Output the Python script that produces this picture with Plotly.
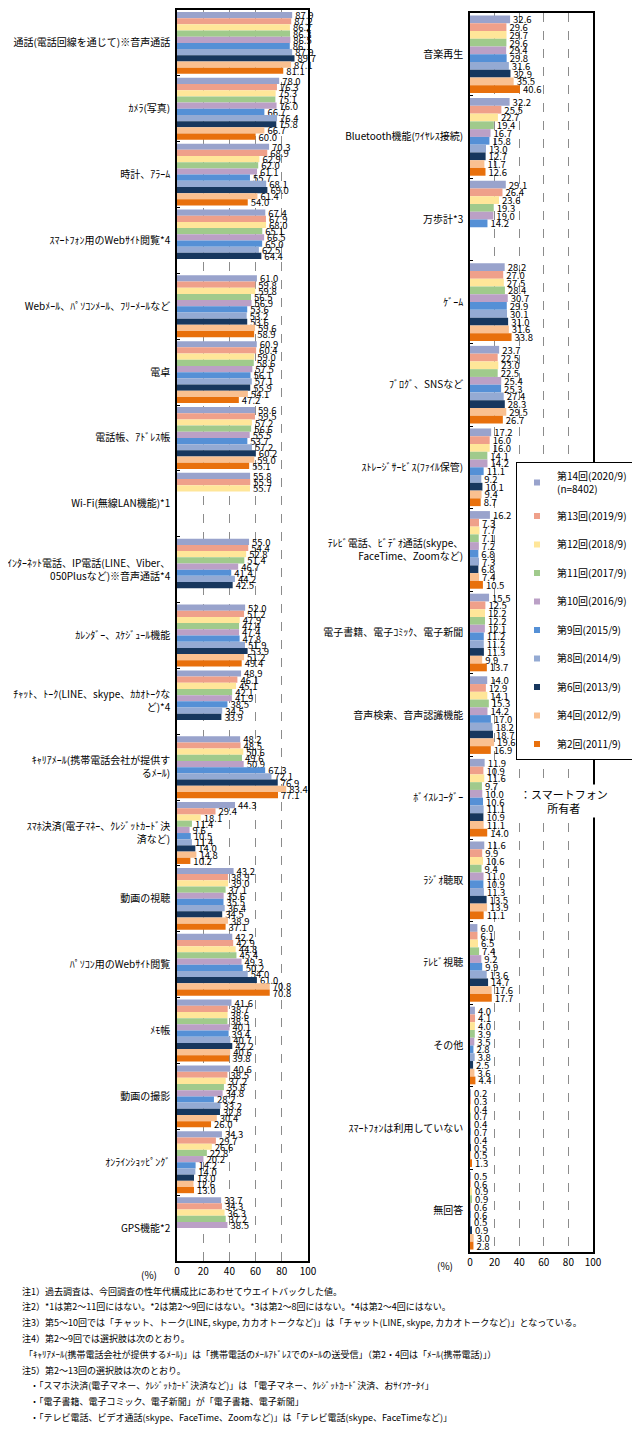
import plotly.graph_objects as go

# The page body adds an 8px margin, so the figure is 8px smaller and all pixel
# positions below are shifted by that margin.
PAGE_W, PAGE_H = 640, 1435
OFF = 8
W, H = PAGE_W - OFF, PAGE_H - OFF
FONT = "Noto Sans CJK JP"
LABEL_FONT = "Liberation Sans Narrow, Arial Narrow, Noto Sans CJK JP"

series_names = ["第14回(2020/9)<br>(n=8402)", "第13回(2019/9)", "第12回(2018/9)", "第11回(2017/9)",
                "第10回(2016/9)", "第9回(2015/9)", "第8回(2014/9)", "第6回(2013/9)",
                "第4回(2012/9)", "第2回(2011/9)"]
colors = ["#99A3CC", "#EFA08A", "#FFE699", "#A0CA8C", "#BBA0C6", "#5590D6",
          "#94AAD3", "#17375E", "#FAC090", "#E8700C"]

left_cats = ["通話(電話回線を通じて)※音声通話", "ｶﾒﾗ(写真)", "時計、ｱﾗｰﾑ", "ｽﾏｰﾄﾌｫﾝ用のWebｻｲﾄ閲覧*4",
             "Webﾒｰﾙ、ﾊﾟｿｺﾝﾒｰﾙ、ﾌﾘｰﾒｰﾙなど", "電卓", "電話帳、ｱﾄﾞﾚｽ帳", "Wi-Fi(無線LAN機能)*1",
             "ｲﾝﾀｰﾈｯﾄ電話、IP電話(LINE、Viber、<br>050Plusなど)※音声通話*4", "ｶﾚﾝﾀﾞｰ、ｽｹｼﾞｭｰﾙ機能",
             "ﾁｬｯﾄ、ﾄｰｸ(LINE、skype、ｶｶｵﾄｰｸな<br>ど)*4", "ｷｬﾘｱﾒｰﾙ(携帯電話会社が提供す<br>るﾒｰﾙ)",
             "ｽﾏﾎ決済(電子ﾏﾈｰ、ｸﾚｼﾞｯﾄｶｰﾄﾞ決<br>済など)", "動画の視聴", "ﾊﾟｿｺﾝ用のWebｻｲﾄ閲覧",
             "ﾒﾓ帳", "動画の撮影", "ｵﾝﾗｲﾝｼｮｯﾋﾟﾝｸﾞ", "GPS機能*2"]

L14 = [87.9, 78.0, 70.3, 67.4, 61.0, 60.9, 59.6, 55.8, 55.0, 52.0, 48.9, 48.2, 44.3, 43.2, 42.2, 41.6, 40.6, 34.3, 33.7]
L13 = [87.2, 76.3, 68.9, 67.9, 59.8, 60.4, 59.5, 55.9, 54.4, 51.2, 46.1, 48.5, 29.4, 38.9, 42.9, 38.7, 38.5, 29.7, 34.3]
L12 = [86.2, 75.3, 62.9, 68.0, 59.8, 59.0, 57.2, 55.7, 52.8, 47.9, 45.1, 50.6, 18.1, 39.0, 44.8, 38.6, 37.2, 26.6, 36.3]
L11 = [86.3, 75.1, 62.0, 65.1, 56.5, 58.6, 56.6, None, 51.4, 47.4, 42.1, 49.6, 11.4, 37.1, 45.4, 38.5, 35.8, 22.8, 37.2]
L10 = [86.5, 76.0, 61.1, 66.5, 56.9, 57.5, 55.5, None, 46.7, 47.4, 41.9, 50.9, 9.6, 35.6, 49.3, 40.1, 34.8, 20.2, 38.5]
L9 = [86.1, 66.7, 55.7, 65.0, 53.6, 56.1, 53.7, None, 41.4, 47.8, 38.5, 67.3, 10.5, 35.5, 50.2, 39.4, 28.2, 14.2, None]
L8 = [87.9, 76.4, 68.1, 62.5, 53.2, 57.1, 57.2, None, 44.2, 51.9, 34.5, 72.1, 11.4, 36.4, 54.0, 40.7, 33.2, 14.0, None]
L6 = [89.7, 75.8, 69.0, 64.4, 53.6, 55.9, 60.2, None, 42.5, 53.9, 33.9, 76.9, 14.0, 34.5, 61.0, 42.2, 32.8, 13.0, None]
L4 = [87.1, 66.7, 61.4, None, 59.6, 54.1, 59.0, None, None, 51.2, None, 83.4, 14.8, 38.9, 70.8, 40.6, 30.4, 12.6, None]
L2 = [81.1, 60.0, 54.0, None, 58.9, 47.2, 55.1, None, None, 49.4, None, 77.1, 10.2, 37.1, 70.8, 39.8, 26.0, 13.0, None]

right_cats = ["音楽再生", "Bluetooth機能(ﾜｲﾔﾚｽ接続)", "万歩計*3", "ｹﾞｰﾑ", "ﾌﾞﾛｸﾞ、SNSなど",
              "ｽﾄﾚｰｼﾞｻｰﾋﾞｽ(ﾌｧｲﾙ保管)", "ﾃﾚﾋﾞ電話、ﾋﾞﾃﾞｵ通話(skype、<br>FaceTime、Zoomなど)",
              "電子書籍、電子ｺﾐｯｸ、電子新聞", "音声検索、音声認識機能", "ﾎﾞｲｽﾚｺｰﾀﾞｰ", "ﾗｼﾞｵ聴取",
              "ﾃﾚﾋﾞ視聴", "その他", "ｽﾏｰﾄﾌｫﾝは利用していない", "無回答"]

R14 = [32.6, 32.2, 29.1, 28.2, 23.7, 17.2, 16.2, 15.5, 14.0, 11.9, 11.6, 6.0, 4.0, 0.2, 0.5]
R13 = [29.6, 25.5, 26.4, 27.0, 22.5, 16.0, 7.3, 12.5, 12.9, 10.9, 9.9, 6.1, 4.1, 0.3, 0.6]
R12 = [29.7, 22.7, 23.6, 27.5, 23.0, 16.0, 7.7, 12.2, 14.1, 11.6, 10.6, 6.5, 4.0, 0.4, 0.9]
R11 = [29.6, 19.4, 19.3, 28.4, 22.5, 14.1, 7.1, 12.2, 15.3, 9.7, 9.4, 7.4, 3.9, 0.7, 0.9]
R10 = [29.4, 16.7, 19.0, 30.7, 25.4, 14.2, 7.2, 12.1, 14.2, 10.0, 11.0, 9.2, 3.5, 0.4, 0.6]
R9 = [29.8, 15.8, 14.2, 29.9, 25.3, 11.1, 6.8, 11.2, 17.0, 10.6, 10.9, 9.9, 2.8, 0.7, 0.6]
R8 = [31.6, 13.0, None, 30.1, 27.4, 9.2, 7.3, 11.2, 18.2, 11.1, 11.3, 13.6, 3.8, 0.4, 0.5]
R6 = [32.9, 12.7, None, 31.0, 28.3, 10.1, 6.8, 11.3, 18.7, 10.9, 13.5, 14.7, 2.5, 0.5, 0.9]
R4 = [35.5, 11.7, None, 31.6, 29.5, 9.4, 7.4, 9.9, 19.6, 11.1, 13.9, 17.6, 3.6, 0.5, 3.0]
R2 = [40.6, 12.6, None, 33.8, 26.7, 8.7, 10.5, 13.7, 16.9, 14.0, 11.1, 17.7, 4.4, 1.3, 2.8]

x_ticks = [0, 20, 40, 60, 80, 100]

notes = [
    "注1）過去調査は、今回調査の性年代構成比にあわせてウエイトバックした値。",
    "注2）*1は第2～11回にはない。*2は第2～9回にはない。*3は第2～8回にはない。*4は第2～4回にはない。",
    "注3）第5～10回では「チャット、トーク(LINE, skype, カカオトークなど)」は「チャット(LINE, skype, カカオトークなど)」となっている。",
    "注4）第2～9回では選択肢は次のとおり。",
    "「ｷｬﾘｱﾒｰﾙ(携帯電話会社が提供するﾒｰﾙ)」は「携帯電話のﾒｰﾙｱﾄﾞﾚｽでのﾒｰﾙの送受信」（第2・4回は「ﾒｰﾙ(携帯電話)」）",
    "注5）第2～13回の選択肢は次のとおり。",
    "・「スマホ決済(電子マネー、ｸﾚｼﾞｯﾄｶｰﾄﾞ決済など)」は 「電子マネー、ｸﾚｼﾞｯﾄｶｰﾄﾞ決済、おｻｲﾌｹｰﾀｲ」",
    "・「電子書籍、電子コミック、電子新聞」が「電子書籍、電子新聞」",
    "・「テレビ電話、ビデオ通話(skype、FaceTime、Zoomなど)」は「テレビ電話(skype、FaceTimeなど)」",
]
note_x = [20, 20, 20, 20, 22, 20, 28, 28, 28]


def px_x(p):
    return (p - OFF) / W


def px_y(p):
    return 1 - (p - OFF) / H


left_series = [L14, L13, L12, L11, L10, L9, L8, L6, L4, L2]
right_series = [R14, R13, R12, R11, R10, R9, R8, R6, R4, R2]

fig = go.Figure()
for vals, col in zip(left_series, colors):
    fig.add_trace(go.Bar(
        x=vals, y=left_cats, orientation="h", marker=dict(color=col, line=dict(width=0)),
        text=[None if v is None else f"{v:.1f}" for v in vals], textposition="outside",
        constraintext="none", cliponaxis=False, textangle=0,
        textfont=dict(size=9.5, color="black", family=FONT),
        showlegend=False, xaxis="x", yaxis="y", hoverinfo="skip"))
for vals, col in zip(right_series, colors):
    fig.add_trace(go.Bar(
        x=vals, y=right_cats, orientation="h", marker=dict(color=col, line=dict(width=0)),
        text=[None if v is None else f"{v:.1f}" for v in vals], textposition="outside",
        constraintext="none", cliponaxis=False, textangle=0,
        textfont=dict(size=9.5, color="black", family=FONT),
        showlegend=False, xaxis="x2", yaxis="y2", hoverinfo="skip"))
for i, (name, col) in enumerate(zip(series_names, colors)):
    fig.add_trace(go.Scatter(
        x=[None], y=[None], mode="markers", name=name, legendgroup=f"g{i}",
        marker=dict(symbol="square", size=6, color=col), xaxis="x2", yaxis="y2"))

xcommon = dict(range=[0, 100], tickvals=x_ticks, showgrid=True, gridcolor="#8c8c8c",
               griddash="dash", gridwidth=1, showline=True, linecolor="black", linewidth=1.5,
               mirror=True, ticks="", zeroline=False, automargin=False,
               tickfont=dict(size=10, color="black", family=FONT), fixedrange=True)
ycommon = dict(autorange="reversed", type="category", showline=True, linecolor="black",
               linewidth=1.5, mirror=True, ticks="inside", tickson="boundaries", ticklen=3,
               tickcolor="black", showgrid=False, automargin=False, ticklabelstandoff=3,
               tickfont=dict(size=10, color="black", family=LABEL_FONT), fixedrange=True)

fig.update_layout(
    width=W, height=H, margin=dict(l=0, r=0, t=0, b=0),
    paper_bgcolor="white", plot_bgcolor="white",
    font=dict(family=FONT, color="black"),
    barmode="group", bargap=0.06, bargroupgap=0,
    xaxis=dict(domain=[px_x(177), px_x(308)], anchor="y", **xcommon),
    yaxis=dict(domain=[px_y(1261), px_y(2 + OFF)], anchor="x", **ycommon),
    xaxis2=dict(domain=[px_x(470), px_x(593)], anchor="y2", **xcommon),
    yaxis2=dict(domain=[px_y(1252), px_y(5 + OFF)], anchor="x2", **ycommon),
    legend=dict(x=px_x(516), y=px_y(462), xanchor="left", yanchor="top",
                bgcolor="white", bordercolor="black", borderwidth=1,
                font=dict(size=10, color="black", family=FONT),
                tracegroupgap=9.5, itemwidth=30, traceorder="grouped"),
)

annotations = [
    dict(text="(%)", x=px_x(149), y=px_y(1274), xref="paper", yref="paper", xanchor="center",
         yanchor="middle", showarrow=False, font=dict(size=10)),
    dict(text="(%)", x=px_x(445), y=px_y(1265), xref="paper", yref="paper", xanchor="center",
         yanchor="middle", showarrow=False, font=dict(size=10)),
    dict(text="：スマートフォン<br>所有者", x=px_x(564), y=px_y(801), xref="paper", yref="paper",
         xanchor="center", yanchor="middle", showarrow=False, font=dict(size=11),
         bgcolor="white", align="center"),
]
for k, (t, nx) in enumerate(zip(notes, note_x)):
    annotations.append(dict(text=t, x=px_x(nx), y=px_y(1291 + k * 15.8), xref="paper", yref="paper",
                            xanchor="left", yanchor="middle", showarrow=False,
                            font=dict(size=9, color="black")))
fig.update_layout(annotations=annotations)

fig.write_html("out.html")
